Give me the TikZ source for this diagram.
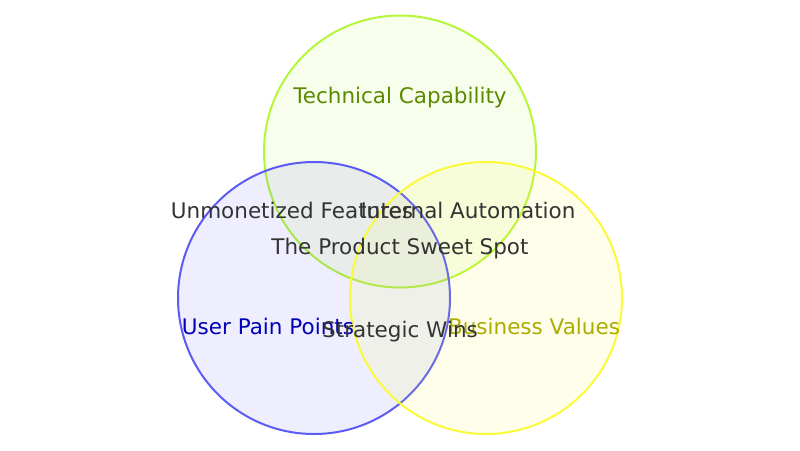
\documentclass[tikz,border=0pt]{standalone}
\usepackage{fontspec}
\setmainfont{DejaVu Sans}
\definecolor{tcg}{HTML}{B5F53A}
\definecolor{upb}{HTML}{5C5CF5}
\definecolor{bvy}{HTML}{FAFA3A}
\definecolor{tct}{HTML}{5A8A00}
\definecolor{upt}{HTML}{0000B8}
\definecolor{bvt}{HTML}{ABAB00}
\begin{document}
\begin{tikzpicture}[x=1pt,y=-1pt,
  setc/.style={circle, minimum size=272pt, inner sep=0pt, line width=2pt, fill opacity=0.1, text opacity=1},
  lbl/.style={font=\fontsize{21.5}{25}\selectfont, inner sep=0pt, anchor=center},
  mid/.style={lbl, text=black!80}]
\useasboundingbox (0,0) rectangle (800,450);
\node[setc, draw=tcg, fill=tcg] (tc) at (400,151.5) {};
\node[setc, draw=upb, fill=upb] (up) at (314,298) {};
\node[setc, draw=bvy, fill=bvy] (bv) at (486,298) {};
\node[lbl, text=tct] (tcl) at (400,98) {Technical Capability};
\node[lbl, text=upt] (upl) at (268,326) {User Pain Points};
\node[lbl, text=bvt] (bvl) at (534,326) {Business Values};
\node[mid] (uf) at (292,210) {Unmonetized Features};
\node[mid] (ia) at (468,210) {Internal Automation};
\node[mid] (ss) at (400,249) {The Product Sweet Spot};
\node[mid] (sw) at (400,332) {Strategic Wins};
\end{tikzpicture}
\end{document}
